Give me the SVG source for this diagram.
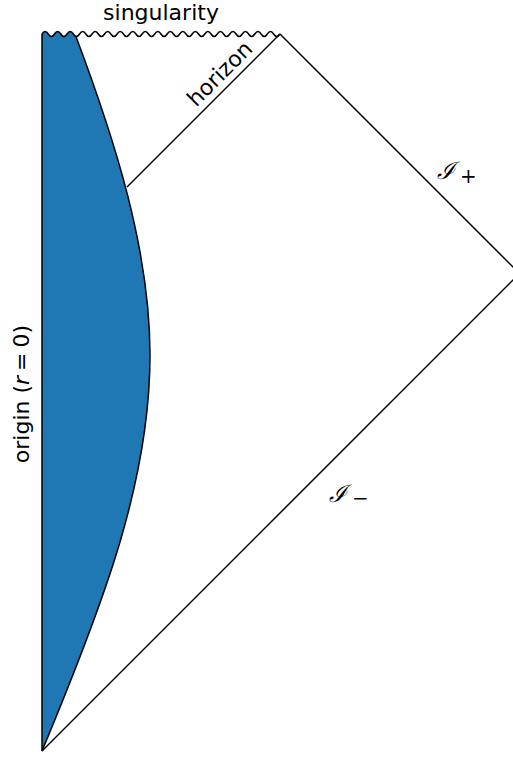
<svg xmlns="http://www.w3.org/2000/svg" width="513" height="757" viewBox="0 0 513 757">
<style>
.ln{fill:none;stroke:#000;stroke-width:1.5;stroke-linejoin:round;stroke-linecap:butt}
.lbl{font-family:"DejaVu Sans",sans-serif;font-size:22px;fill:#000}
.mth{font-family:"DejaVu Serif",serif;fill:#000}
</style>
<defs>
<path id="wave" d="M42,34 q3.13,-5 6.26,0 t6.26,0 t6.26,0 t6.26,0 t6.26,0 t6.26,0 t6.26,0 t6.26,0 t6.26,0 t6.26,0 t6.26,0 t6.26,0 t6.26,0 t6.26,0 t6.26,0 t6.26,0 t6.26,0 t6.26,0 t6.26,0 t6.26,0 t6.26,0 t6.26,0 t6.26,0 t6.26,0 t6.26,0 t6.26,0 t6.26,0 t6.26,0 t6.26,0 t6.26,0 t6.26,0 t6.26,0 t6.26,0 t6.26,0 t6.26,0 t6.26,0 t6.26,0 t6.26,0"/>
<clipPath id="below" clipPathUnits="userSpaceOnUse">
<path d="M42,34 q3.13,-5 6.26,0 t6.26,0 t6.26,0 t6.26,0 t6.26,0 t6.26,0 t6.26,0 t6.26,0 t6.26,0 t6.26,0 t6.26,0 t6.26,0 L300,34 L520,760 L0,760 L0,34 Z"/>
</clipPath>
</defs>
<g id="star">
<path d="M42,751 L42,15 L69,15 L75,34 C115,140 150,250 150,355 C150,480 105,600 42,751 Z" fill="#1f77b4" clip-path="url(#below)"/>
<path class="ln" d="M73.5,29 L75,34 C115,140 150,250 150,355 C150,480 105,600 42,751" clip-path="url(#below)"/>
</g>
<g id="edges">
<line class="ln" x1="42" y1="34" x2="42" y2="751"/>
<use href="#wave" class="ln"/>
<line class="ln" x1="280" y1="34" x2="520" y2="274"/>
<line class="ln" x1="42" y1="751" x2="520" y2="273"/>
<line class="ln" x1="280" y1="34" x2="127" y2="187"/>
</g>
<g id="labels">
<text class="lbl" x="161" y="20" text-anchor="middle">singularity</text>
<text class="lbl" transform="translate(225,79) rotate(-45)" text-anchor="middle" font-size="21">horizon</text>
<text class="lbl" transform="translate(29,394) rotate(-90)" text-anchor="middle" font-size="23">origin (<tspan font-style="italic">r</tspan><tspan dx="5">=</tspan><tspan dx="5">0)</tspan></text>
<text class="mth" x="437" y="179" font-size="24" font-style="italic">ℐ</text>
<text class="mth" x="460" y="183" font-size="20">+</text>
<text class="mth" x="329" y="502" font-size="24" font-style="italic">ℐ</text>
<text class="mth" x="352" y="505" font-size="20">−</text>
</g>
</svg>
